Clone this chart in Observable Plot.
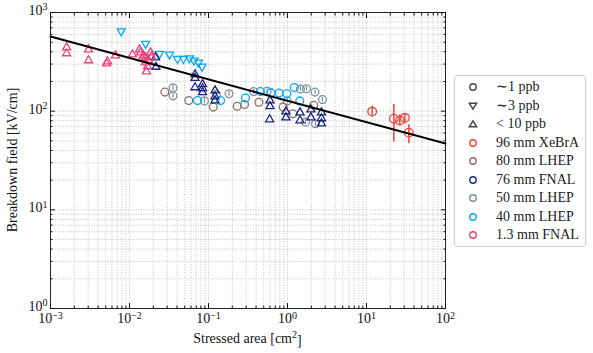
<!DOCTYPE html>
<html><head><meta charset="utf-8">
<script src="https://cdn.jsdelivr.net/npm/d3@7"></script>
<script src="https://cdn.jsdelivr.net/npm/@observablehq/plot@0.6"></script>
<style>
body{margin:0;background:#fff;}
#wrap{position:relative;width:593px;height:353px;font-family:"Liberation Serif",serif;}
#legend{position:absolute;left:454px;top:75px;width:132px;height:172px;border:1px solid #cfcfcf;border-radius:3px;box-sizing:border-box;background:#fff;}
.row{position:absolute;left:0;height:18px;width:130px;font-size:14px;color:#222;}
.row svg{position:absolute;left:12px;top:3px;}
.row span{position:absolute;left:41px;top:0;line-height:18px;white-space:nowrap;}
</style></head><body><div id="wrap"><div id="legend"></div></div>
<script>
// ---- data ----
const xTicks = [1e-3, 1e-2, 1e-1, 1e0, 1e1, 1e2];
const yTicks = [1e0, 1e1, 1e2, 1e3];

const fitArea = [1e-3, 1e2];
const fitField = [570, 47];

// 96 mm XeBrA (~1 ppb, circles, with error bars)
const xebraArea  = [11.8, 22.2, 26.4, 30.6, 34.4];
const xebraField = [99, 84, 80.5, 85.7, 60.4];
const xebraLow   = [88, 48.5, 71.6, 74.5, 46.8];
const xebraHigh  = [112, 117, 91.8, 94.1, 72.8];

// 80 mm LHEP (~1 ppb, circles)
const lhep80Area  = [0.0280, 0.0563, 0.115, 0.231, 0.286, 0.434, 0.881, 1.17, 2.15];
const lhep80Field = [156, 128, 110, 112, 117, 123, 110, 94.2, 115];

// 76 mm FNAL (< 10 ppb, up triangles)
const fnal76Area  = [0.0213, 0.0216, 0.0675, 0.0675, 0.0675, 0.0840, 0.0840, 0.0840, 0.121, 0.121, 0.121,
                     0.600, 0.600, 0.594, 0.957, 0.957, 1.44, 1.44, 1.98, 1.98, 2.69, 2.69, 2.69];
const fnal76Field = [350, 281, 236, 217, 174, 187, 170, 155, 162, 141, 128,
                     128, 112, 82.4, 99.3, 86.3, 97.0, 80.5, 104, 86.3, 97.0, 84.4, 75.0];

// 50 mm LHEP (~1 ppb, circles, small error bars)
const lhep50Area  = [0.0356, 0.0356, 0.0889, 0.126, 0.182, 0.372, 0.553, 0.991, 1.46, 1.74, 2.23, 2.77, 1.69, 2.26];
const lhep50Field = [173, 143, 127, 148, 150, 158, 160, 127, 168, 169, 156, 131, 77.4, 74.5];
const lhep50Low   = [163, 135, 120, 140, 142, 149, 151, 120, 159, 160, 148, 124, 73.1, 70.4];
const lhep50High  = [183, 151, 134, 156, 158, 167, 169, 134, 177, 178, 164, 138, 81.7, 78.6];

// 40 mm LHEP (~3 ppb down triangles, ~1 ppb circles)
const lhep40DownArea  = [0.00786, 0.0160, 0.0240, 0.0321, 0.0405, 0.0483, 0.0575, 0.0655, 0.0746, 0.0827];
const lhep40DownField = [647, 482, 382, 375, 339, 339, 344, 327, 311, 284];
const lhep40CircArea  = [0.0726, 0.142, 0.294, 0.455, 0.618, 0.780, 0.980, 1.22, 1.43];
const lhep40CircField = [128, 128, 136, 158, 154, 153, 150, 174, 127];

// 1.3 mm FNAL (< 10 ppb, up triangles)
const fnal13Area  = [0.00160, 0.00160, 0.00303, 0.00303, 0.00512, 0.00527, 0.00665, 0.0109, 0.0134, 0.0138,
                     0.0146, 0.0150, 0.0159, 0.0159, 0.0164, 0.0169, 0.0174, 0.0185, 0.0190];
const fnal13Field = [441, 385, 422, 327, 304, 319, 366, 375, 422, 393,
                     342, 366, 350, 311, 252, 284, 327, 393, 358];

const purityLabels = ["\u223C1 ppb", "\u223C3 ppb", "< 10 ppb"];
const datasetLabels = ["96 mm XeBrA", "80 mm LHEP", "76 mm FNAL", "50 mm LHEP", "40 mm LHEP", "1.3 mm FNAL"];
const datasetColors = ["#f44336", "#8d6e63", "#1a237e", "#78909c", "#03a9f4", "#ec407a"];

// ---- helpers ----
const rows = (xs, ys) => xs.map((x, i) => ({x, y: ys[i]}));
const [cRed, cBrown, cNavy, cGray, cSky, cPink] = datasetColors;

const allX = d3.scaleLog().domain([1e-3, 1e2]).ticks();
const allY = d3.scaleLog().domain([1, 1e3]).ticks();
const minorX = allX.filter(v => !xTicks.some(t => Math.abs(t - v) / t < 1e-9));
const minorY = allY.filter(v => !yTicks.some(t => Math.abs(t - v) / t < 1e-9));
const supFmt = d => "10^" + Math.round(Math.log10(d));
const blank = () => "";

const circ = {symbol: "circle", r: 3.9, fill: "none", strokeWidth: 1.3};
const tri = {symbol: "triangle", r: 3.0, fill: "none", strokeWidth: 1.3};

const xebra = xebraArea.map((x, i) => ({x, y: xebraField[i], lo: xebraLow[i], hi: xebraHigh[i]}));
const l50 = lhep50Area.map((x, i) => ({x, y: lhep50Field[i], lo: lhep50Low[i], hi: lhep50High[i]}));

const tickStyle = {stroke: "#111", label: null, tickFormat: blank};

const svg = Plot.plot({
  width: 593, height: 353,
  marginLeft: 50, marginRight: 148, marginTop: 12, marginBottom: 45,
  x: {type: "log", domain: [1e-3, 1e2], label: null},
  y: {type: "log", domain: [1, 1e3], label: null},
  style: {fontFamily: "Liberation Serif, serif", fontSize: "14px", background: "white", color: "#111"},
  marks: [
    Plot.gridX(allX, {stroke: "#b5b5b5", strokeOpacity: 1, strokeWidth: 0.8, strokeDasharray: "1,1.6"}),
    Plot.gridY(allY, {stroke: "#b5b5b5", strokeOpacity: 1, strokeWidth: 0.8, strokeDasharray: "1,1.6"}),
    // data
    Plot.ruleX(l50, {x: "x", y1: "lo", y2: "hi", stroke: cGray, strokeWidth: 1.2}),
    Plot.dot(rows(lhep50Area, lhep50Field), {x: "x", y: "y", stroke: cGray, ...circ}),
    Plot.dot(rows(lhep80Area, lhep80Field), {x: "x", y: "y", stroke: cBrown, ...circ}),
    Plot.dot(rows(lhep40CircArea, lhep40CircField), {x: "x", y: "y", stroke: cSky, ...circ}),
    Plot.dot(rows(lhep40DownArea, lhep40DownField), {x: "x", y: "y", stroke: cSky, rotate: 180, ...tri}),
    Plot.dot(rows(fnal76Area, fnal76Field), {x: "x", y: "y", stroke: cNavy, ...tri}),
    Plot.dot(rows(fnal13Area, fnal13Field), {x: "x", y: "y", stroke: cPink, ...tri}),
    Plot.ruleX(xebra, {x: "x", y1: "lo", y2: "hi", stroke: cRed, strokeWidth: 1.5}),
    Plot.dot(xebra, {x: "x", y: "y", stroke: cRed, ...circ, r: 4.3}),
    // fit line
    Plot.line(rows(fitArea, fitField), {x: "x", y: "y", stroke: "black", strokeWidth: 2}),
    // frame & ticks
    Plot.frame({stroke: "#222", strokeWidth: 1}),
    Plot.axisX(xTicks, {anchor: "bottom", tickSize: -5, ...tickStyle}),
    Plot.axisX(minorX, {anchor: "bottom", tickSize: -2.5, ...tickStyle}),
    Plot.axisX(xTicks, {anchor: "top", tickSize: -5, ...tickStyle}),
    Plot.axisX(minorX, {anchor: "top", tickSize: -2.5, ...tickStyle}),
    Plot.axisY(yTicks, {anchor: "left", tickSize: -5, ...tickStyle}),
    Plot.axisY(minorY, {anchor: "left", tickSize: -2.5, ...tickStyle}),
    Plot.axisY(yTicks, {anchor: "right", tickSize: -5, ...tickStyle}),
    Plot.axisY(minorY, {anchor: "right", tickSize: -2.5, ...tickStyle}),
    Plot.axisX(xTicks, {anchor: "bottom", tickSize: 0, tickPadding: 5, tickFormat: supFmt, label: null, fill: "#111"}),
    Plot.axisY(yTicks, {anchor: "left", tickSize: 0, tickPadding: 3, tickFormat: supFmt, label: null, fill: "#111", dy: -2})
  ]
});

// superscript tick labels
d3.select(svg).selectAll("text").each(function() {
  const t = this.textContent;
  const m = /^10\^(-?\d+)$/.exec(t);
  if (!m) return;
  const sel = d3.select(this);
  sel.text(null);
  sel.append("tspan").text("10");
  sel.append("tspan").attr("dy", "-0.45em").attr("font-size", "0.72em").text(m[1].replace("-", "\u2212"));
});

// axis titles
const s = d3.select(svg);
s.append("text").attr("x", 247.5).attr("y", 343).attr("text-anchor", "middle")
  .attr("font-size", 14).attr("fill", "#111")
  .call(t => { t.append("tspan").text("Stressed area [cm"); t.append("tspan").attr("dy", "-0.45em").attr("font-size", "0.72em").text("2"); t.append("tspan").attr("dy", "0.45em").text("]"); });
s.append("text").attr("transform", "translate(17,160) rotate(-90)").attr("text-anchor", "middle")
  .attr("font-size", 14).attr("fill", "#111").text("Breakdown field [kV/cm]");

document.getElementById("wrap").prepend(svg);

// legend
const legend = document.getElementById("legend");
const entries = [
  {label: purityLabels[0], color: "#444", shape: "circle"},
  {label: purityLabels[1], color: "#444", shape: "down"},
  {label: purityLabels[2], color: "#444", shape: "up"},
  ...datasetLabels.map((l, i) => ({label: l, color: datasetColors[i], shape: "circle"}))
];
entries.forEach((e, i) => {
  const row = document.createElement("div");
  row.className = "row";
  row.style.top = (2 + i * 18.55) + "px";
  let shape;
  if (e.shape === "circle") shape = `<circle cx="6" cy="6" r="3.2" fill="none" stroke="${e.color}" stroke-width="1.4"/>`;
  else if (e.shape === "down") shape = `<path d="M2.3,3.2L9.7,3.2L6,9.2Z" fill="none" stroke="${e.color}" stroke-width="1.4"/>`;
  else shape = `<path d="M2.3,8.8L9.7,8.8L6,2.8Z" fill="none" stroke="${e.color}" stroke-width="1.4"/>`;
  row.innerHTML = `<svg width="12" height="12">${shape}</svg><span>${e.label}</span>`;
  legend.appendChild(row);
});
</script></body></html>
